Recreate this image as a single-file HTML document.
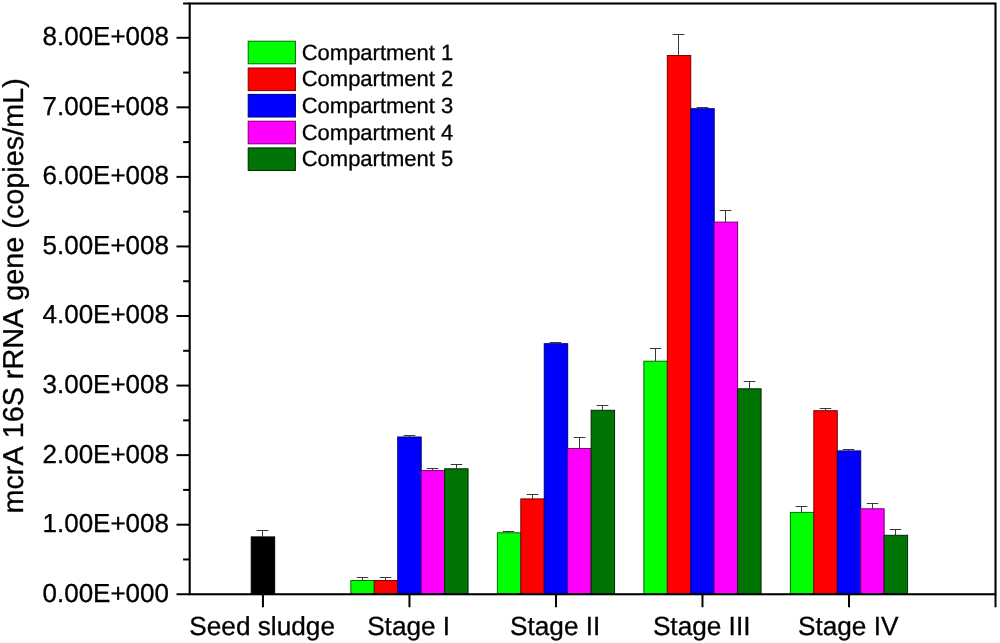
<!DOCTYPE html>
<html><head><meta charset="utf-8"><title>chart</title>
<style>html,body{margin:0;padding:0;background:#fff}body{width:1000px;height:643px;overflow:hidden;font-family:"Liberation Sans",sans-serif}</style>
</head><body>
<svg width="1000" height="643" viewBox="0 0 1000 643" style="display:block;font-kerning:none;text-rendering:geometricPrecision;filter:blur(0.35px)">
<rect width="1000" height="643" fill="#fff"/>
<rect x="251.23" y="536.90" width="23.44" height="57.35" fill="#000" stroke="#000" stroke-width="1"/>
<path d="M262.50 536.90V530.50M256.70 530.50H268.30" stroke="#383838" stroke-width="1" fill="none"/>
<rect x="350.86" y="580.50" width="23.44" height="13.75" fill="#00ff00" stroke="#006c00" stroke-width="1"/>
<path d="M362.50 580.50V577.50M356.70 577.50H368.30" stroke="#383838" stroke-width="1" fill="none"/>
<rect x="374.30" y="580.50" width="23.44" height="13.75" fill="#ff0000" stroke="#7a0000" stroke-width="1"/>
<path d="M385.50 580.50V577.50M379.70 577.50H391.30" stroke="#383838" stroke-width="1" fill="none"/>
<rect x="397.74" y="437.00" width="23.44" height="157.25" fill="#0000ff" stroke="#000074" stroke-width="1"/>
<path d="M409.50 437.00V435.50M403.70 435.50H415.30" stroke="#383838" stroke-width="1" fill="none"/>
<rect x="421.18" y="470.60" width="23.44" height="123.65" fill="#ff00ff" stroke="#740074" stroke-width="1"/>
<path d="M432.50 470.60V468.50M426.70 468.50H438.30" stroke="#383838" stroke-width="1" fill="none"/>
<rect x="444.63" y="468.80" width="23.44" height="125.45" fill="#007404" stroke="#002a00" stroke-width="1"/>
<path d="M456.50 468.80V464.50M450.70 464.50H462.30" stroke="#383838" stroke-width="1" fill="none"/>
<rect x="497.37" y="532.80" width="23.44" height="61.45" fill="#00ff00" stroke="#006c00" stroke-width="1"/>
<path d="M508.50 532.80V531.50M502.70 531.50H514.30" stroke="#383838" stroke-width="1" fill="none"/>
<rect x="520.81" y="498.90" width="23.44" height="95.35" fill="#ff0000" stroke="#7a0000" stroke-width="1"/>
<path d="M532.50 498.90V494.50M526.70 494.50H538.30" stroke="#383838" stroke-width="1" fill="none"/>
<rect x="544.25" y="343.70" width="23.44" height="250.55" fill="#0000ff" stroke="#000074" stroke-width="1"/>
<path d="M555.50 343.70V342.50M549.70 342.50H561.30" stroke="#383838" stroke-width="1" fill="none"/>
<rect x="567.69" y="448.50" width="23.44" height="145.75" fill="#ff00ff" stroke="#740074" stroke-width="1"/>
<path d="M579.50 448.50V437.50M573.70 437.50H585.30" stroke="#383838" stroke-width="1" fill="none"/>
<rect x="591.13" y="410.30" width="23.44" height="183.95" fill="#007404" stroke="#002a00" stroke-width="1"/>
<path d="M602.50 410.30V405.50M596.70 405.50H608.30" stroke="#383838" stroke-width="1" fill="none"/>
<rect x="643.88" y="361.20" width="23.44" height="233.05" fill="#00ff00" stroke="#006c00" stroke-width="1"/>
<path d="M655.50 361.20V348.50M649.70 348.50H661.30" stroke="#383838" stroke-width="1" fill="none"/>
<rect x="667.32" y="55.50" width="23.44" height="538.75" fill="#ff0000" stroke="#7a0000" stroke-width="1"/>
<path d="M678.50 55.50V34.50M672.70 34.50H684.30" stroke="#383838" stroke-width="1" fill="none"/>
<rect x="690.76" y="108.70" width="23.44" height="485.55" fill="#0000ff" stroke="#000074" stroke-width="1"/>
<path d="M702.50 108.70V107.50M696.70 107.50H708.30" stroke="#383838" stroke-width="1" fill="none"/>
<rect x="714.20" y="222.10" width="23.44" height="372.15" fill="#ff00ff" stroke="#740074" stroke-width="1"/>
<path d="M725.50 222.10V210.50M719.70 210.50H731.30" stroke="#383838" stroke-width="1" fill="none"/>
<rect x="737.64" y="388.80" width="23.44" height="205.45" fill="#007404" stroke="#002a00" stroke-width="1"/>
<path d="M749.50 388.80V381.50M743.70 381.50H755.30" stroke="#383838" stroke-width="1" fill="none"/>
<rect x="790.39" y="512.40" width="23.44" height="81.85" fill="#00ff00" stroke="#006c00" stroke-width="1"/>
<path d="M801.50 512.40V506.50M795.70 506.50H807.30" stroke="#383838" stroke-width="1" fill="none"/>
<rect x="813.83" y="410.70" width="23.44" height="183.55" fill="#ff0000" stroke="#7a0000" stroke-width="1"/>
<path d="M825.50 410.70V408.50M819.70 408.50H831.30" stroke="#383838" stroke-width="1" fill="none"/>
<rect x="837.27" y="450.90" width="23.44" height="143.35" fill="#0000ff" stroke="#000074" stroke-width="1"/>
<path d="M848.50 450.90V449.50M842.70 449.50H854.30" stroke="#383838" stroke-width="1" fill="none"/>
<rect x="860.71" y="508.80" width="23.44" height="85.45" fill="#ff00ff" stroke="#740074" stroke-width="1"/>
<path d="M872.50 508.80V503.50M866.70 503.50H878.30" stroke="#383838" stroke-width="1" fill="none"/>
<rect x="884.15" y="535.30" width="23.44" height="58.95" fill="#007404" stroke="#002a00" stroke-width="1"/>
<path d="M895.50 535.30V529.50M889.70 529.50H901.30" stroke="#383838" stroke-width="1" fill="none"/>
<rect x="189.7" y="3.5" width="805.80" height="590.75" fill="none" stroke="#000" stroke-width="2.1"/>
<path d="M189.7 594.25H176.50" stroke="#000" stroke-width="2"/>
<path d="M189.7 559.47H183.10" stroke="#000" stroke-width="2"/>
<path d="M189.7 524.69H176.50" stroke="#000" stroke-width="2"/>
<path d="M189.7 489.91H183.10" stroke="#000" stroke-width="2"/>
<path d="M189.7 455.13H176.50" stroke="#000" stroke-width="2"/>
<path d="M189.7 420.35H183.10" stroke="#000" stroke-width="2"/>
<path d="M189.7 385.57H176.50" stroke="#000" stroke-width="2"/>
<path d="M189.7 350.79H183.10" stroke="#000" stroke-width="2"/>
<path d="M189.7 316.01H176.50" stroke="#000" stroke-width="2"/>
<path d="M189.7 281.23H183.10" stroke="#000" stroke-width="2"/>
<path d="M189.7 246.45H176.50" stroke="#000" stroke-width="2"/>
<path d="M189.7 211.67H183.10" stroke="#000" stroke-width="2"/>
<path d="M189.7 176.89H176.50" stroke="#000" stroke-width="2"/>
<path d="M189.7 142.11H183.10" stroke="#000" stroke-width="2"/>
<path d="M189.7 107.33H176.50" stroke="#000" stroke-width="2"/>
<path d="M189.7 72.55H183.10" stroke="#000" stroke-width="2"/>
<path d="M189.7 37.77H176.50" stroke="#000" stroke-width="2"/>
<path d="M189.7 3.50H183.10" stroke="#000" stroke-width="2"/>
<path d="M262.95 594.25V607.25" stroke="#000" stroke-width="2"/>
<path d="M409.46 594.25V607.25" stroke="#000" stroke-width="2"/>
<path d="M555.97 594.25V607.25" stroke="#000" stroke-width="2"/>
<path d="M702.48 594.25V607.25" stroke="#000" stroke-width="2"/>
<path d="M848.99 594.25V607.25" stroke="#000" stroke-width="2"/>
<path d="M995.50 594.25V607.25" stroke="#000" stroke-width="2"/>
<text x="169" y="601.65" text-anchor="end" font-family="Liberation Sans, sans-serif" stroke="#000" stroke-width="0.3" font-size="26">0.00E+000</text>
<text x="169" y="532.09" text-anchor="end" font-family="Liberation Sans, sans-serif" stroke="#000" stroke-width="0.3" font-size="26">1.00E+008</text>
<text x="169" y="462.53" text-anchor="end" font-family="Liberation Sans, sans-serif" stroke="#000" stroke-width="0.3" font-size="26">2.00E+008</text>
<text x="169" y="392.97" text-anchor="end" font-family="Liberation Sans, sans-serif" stroke="#000" stroke-width="0.3" font-size="26">3.00E+008</text>
<text x="169" y="323.41" text-anchor="end" font-family="Liberation Sans, sans-serif" stroke="#000" stroke-width="0.3" font-size="26">4.00E+008</text>
<text x="169" y="253.85" text-anchor="end" font-family="Liberation Sans, sans-serif" stroke="#000" stroke-width="0.3" font-size="26">5.00E+008</text>
<text x="169" y="184.29" text-anchor="end" font-family="Liberation Sans, sans-serif" stroke="#000" stroke-width="0.3" font-size="26">6.00E+008</text>
<text x="169" y="114.73" text-anchor="end" font-family="Liberation Sans, sans-serif" stroke="#000" stroke-width="0.3" font-size="26">7.00E+008</text>
<text x="169" y="45.17" text-anchor="end" font-family="Liberation Sans, sans-serif" stroke="#000" stroke-width="0.3" font-size="26">8.00E+008</text>
<text x="262.15" y="634.7" text-anchor="middle" font-family="Liberation Sans, sans-serif" stroke="#000" stroke-width="0.3" font-size="26.2">Seed sludge</text>
<text x="408.66" y="634.7" text-anchor="middle" font-family="Liberation Sans, sans-serif" stroke="#000" stroke-width="0.3" font-size="26.2">Stage I</text>
<text x="555.17" y="634.7" text-anchor="middle" font-family="Liberation Sans, sans-serif" stroke="#000" stroke-width="0.3" font-size="26.2">Stage II</text>
<text x="701.68" y="634.7" text-anchor="middle" font-family="Liberation Sans, sans-serif" stroke="#000" stroke-width="0.3" font-size="26.2">Stage III</text>
<text x="848.19" y="634.7" text-anchor="middle" font-family="Liberation Sans, sans-serif" stroke="#000" stroke-width="0.3" font-size="26.2">Stage IV</text>
<text transform="translate(23.4 295.9) rotate(-90)" text-anchor="middle" font-family="Liberation Sans, sans-serif" stroke="#000" stroke-width="0.3" font-size="28.8">mcrA 16S rRNA gene (copies/mL)</text>
<rect x="248.2" y="41.20" width="47.2" height="22.6" fill="#00ff00" stroke="#006c00" stroke-width="1"/>
<text x="301.7" y="59.50" font-family="Liberation Sans, sans-serif" stroke="#000" stroke-width="0.3" font-size="22">Compartment 1</text>
<rect x="248.2" y="68.00" width="47.2" height="22.6" fill="#ff0000" stroke="#7a0000" stroke-width="1"/>
<text x="301.7" y="86.30" font-family="Liberation Sans, sans-serif" stroke="#000" stroke-width="0.3" font-size="22">Compartment 2</text>
<rect x="248.2" y="94.40" width="47.2" height="22.6" fill="#0000ff" stroke="#000074" stroke-width="1"/>
<text x="301.7" y="112.70" font-family="Liberation Sans, sans-serif" stroke="#000" stroke-width="0.3" font-size="22">Compartment 3</text>
<rect x="248.2" y="121.20" width="47.2" height="22.6" fill="#ff00ff" stroke="#740074" stroke-width="1"/>
<text x="301.7" y="139.50" font-family="Liberation Sans, sans-serif" stroke="#000" stroke-width="0.3" font-size="22">Compartment 4</text>
<rect x="248.2" y="147.90" width="47.2" height="22.6" fill="#007404" stroke="#002a00" stroke-width="1"/>
<text x="301.7" y="166.20" font-family="Liberation Sans, sans-serif" stroke="#000" stroke-width="0.3" font-size="22">Compartment 5</text>
</svg>
</body></html>
